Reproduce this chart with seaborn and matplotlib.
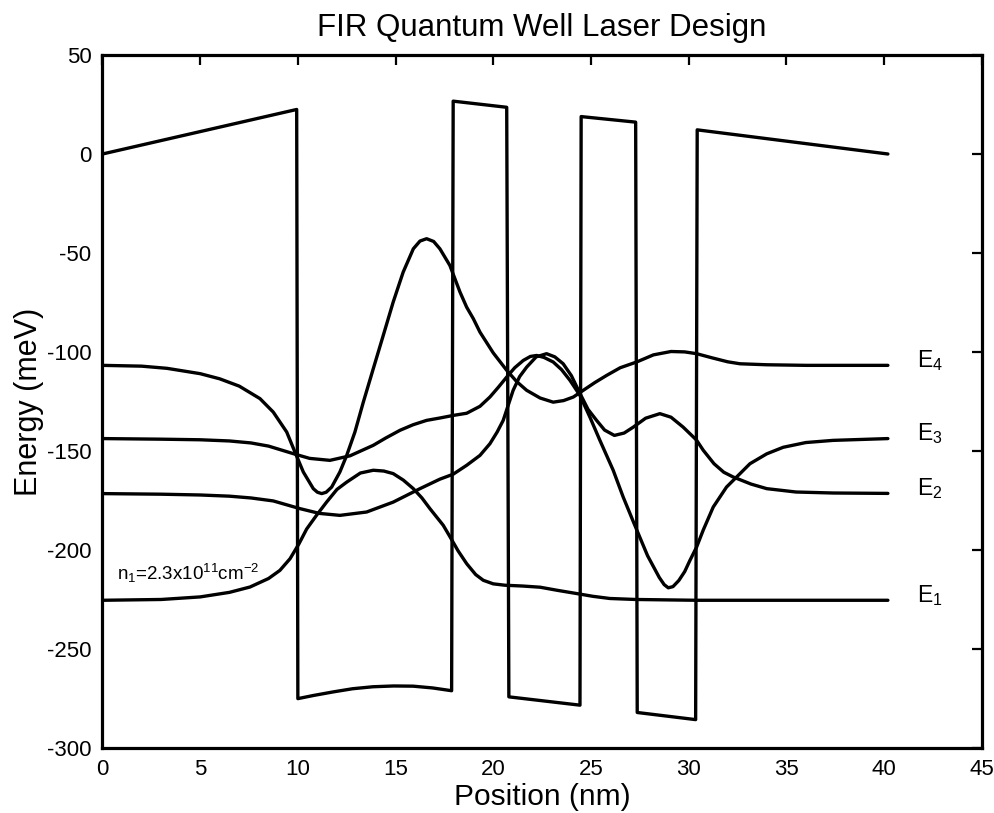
import matplotlib
matplotlib.use("Agg")
import matplotlib.pyplot as plt
import seaborn as sns
import pandas as pd

# ---------------- data ----------------
pot_x = [0, 9.94, 10.0, 10.8, 11.81, 12.8, 13.84, 14.9, 15.9, 16.9, 17.87,
         17.95, 20.69, 20.8, 24.44, 24.5, 27.29, 27.37, 30.36, 30.44, 40.2]
pot_y = [0, 22.5, -275.2, -273.6, -271.8, -270.2, -269.2, -268.8, -268.9, -269.8, -271.2,
         26.7, 23.6, -274.3, -278.5, 18.9, 16.1, -282.2, -285.8, 12.2, 0.0]

e1_x = [0, 3, 5, 6.5, 7.55, 8.5, 9.08, 9.6, 10.06, 10.45, 10.96, 11.47, 12.0, 12.5,
        13.2, 13.86, 14.4, 14.88, 15.4, 15.91, 16.35, 16.76, 17.44, 17.78, 18.2,
        18.64, 19.1, 19.49, 20.0, 20.6, 21.5, 22.4, 23.3, 24.27, 25.1, 25.97,
        27.3, 30.4, 40.2]
e1_y = [-225.5, -225.1, -223.8, -221.5, -218.8, -214.5, -210.4, -204.5, -196.9,
        -189.5, -182.5, -175.9, -169.5, -165.8, -161.2, -159.8, -160.2, -161.5,
        -164.8, -169.1, -173.8, -179.2, -187.6, -193.3, -200.5, -207, -212.5,
        -215.4, -217.2, -217.9, -218.3, -218.9, -220.5, -222.1, -223.5, -224.6,
        -225.1, -225.5, -225.5]

e2_x = [0, 3, 5, 6.5, 7.6, 8.74, 10.11, 11.1, 12.15, 13.52, 14.88, 16.25, 17.27,
        17.95, 18.64, 19.32, 19.83, 20.2, 20.51, 21.02, 21.35, 21.71, 22.2, 22.73,
        23.15, 23.58, 24.0, 24.44, 24.85, 25.29, 25.7, 26.2, 26.7, 27.17, 27.8,
        28.53, 29.1, 29.72, 30.4, 30.75, 31.3, 31.8, 32.28, 33.2, 34.0, 35.5, 37.4,
        40.2]
e2_y = [-171.6, -171.9, -172.3, -172.9, -173.8, -175.3, -179.2, -181.6, -182.6,
        -180.9, -175.9, -169.1, -164.3, -161.8, -157.3, -152.3, -146.4, -140.5,
        -134.6, -119.4, -112.5, -107.7, -102.5, -100.9, -102.5, -106, -112, -121,
        -129, -134.6, -139.5, -142.2, -141, -138, -133.5, -131.2, -133, -138,
        -144.5, -149.7, -156.5, -160.8, -163.2, -166.8, -169.1, -170.8, -171.3,
        -171.5]

e3_x = [0, 3, 5, 6.5, 7.6, 8.5, 9.76, 10.6, 11.64, 12.67, 13.86, 14.5, 15.23, 15.9,
        16.59, 17.27, 17.95, 18.64, 19.32, 19.83, 20.25, 20.69, 21.1, 21.54, 21.9,
        22.22, 22.6, 23.07, 23.5, 23.93, 24.44, 24.95, 25.46, 26.14, 26.65, 27.2,
        27.9, 28.5, 28.75, 28.96, 29.2, 29.5, 29.8, 30.07, 30.41, 30.75, 31.26,
        31.94, 33.14, 34.0, 34.84, 36.0, 37.4, 40.2]
e3_y = [-143.8, -144.1, -144.4, -145.0, -146.0, -147.6, -151.4, -153.8, -154.8,
        -152.5, -147.2, -143.5, -139.6, -136.8, -134.6, -133.4, -132.1, -131,
        -127.5, -122.8, -118, -112.7, -108, -104.3, -102.3, -101.8, -102.8, -105.1,
        -109, -114.4, -122, -133, -144.7, -159.8, -173.3, -186.5, -203, -214,
        -217.6, -219.2, -218.6, -215.5, -211, -205.3, -198.6, -190, -178.4, -168.3,
        -156.5, -151.5, -148.2, -145.8, -144.7, -143.8]

e4_x = [0, 2, 3.3, 5, 6, 7.0, 8.06, 8.74, 9.43, 9.85, 10.28, 10.79, 11.0, 11.22,
        11.45, 11.73, 12.15, 12.5, 12.92, 13.35, 13.86, 14.37, 14.88, 15.39, 15.91,
        16.25, 16.59, 16.95, 17.27, 17.78, 18.3, 18.64, 18.98, 19.32, 20.0, 20.69,
        21.2, 21.71, 22.4, 23.07, 23.6, 24.1, 24.61, 25.2, 25.8, 26.5, 27.34, 28.2,
        29.1, 29.8, 30.41, 31.2, 32.0, 32.63, 34.0, 36.04, 40.2]
e4_y = [-106.8, -107.2, -108.3, -111, -113.6, -117.3, -123.6, -130.4, -140.5,
        -150.6, -160.7, -169.1, -170.9, -171.6, -170.9, -168.3, -160.7, -152.3,
        -140.5, -125.4, -108.5, -91.7, -74.8, -59.7, -47.9, -44, -42.8, -44.2,
        -47.9, -56.3, -69.8, -77.4, -83.2, -90, -100.5, -109.3, -115, -119.4,
        -123.3, -125.4, -124.6, -122.8, -119.4, -115.5, -111.9, -108, -105.1,
        -101.5, -99.8, -100, -100.9, -103, -105, -106, -106.5, -106.8, -106.8]

level_names = ["E$_4$", "E$_3$", "E$_2$", "E$_1$"]
level_values = [-106.8, -143.8, -171.5, -225.5]

density_text = "n$_1$=2.3x10$^{11}$cm$^{-2}$"
density_at = (0.75, -215.5)

x_ticks = [0, 5, 10, 15, 20, 25, 30, 35, 40, 45]
y_ticks = [-300, -250, -200, -150, -100, -50, 0, 50]

# ---------------- style ----------------
sns.set_theme(style="white")
plt.rcParams["font.family"] = ["Liberation Sans", "DejaVu Sans"]
plt.rcParams["mathtext.fontset"] = "custom"
plt.rcParams["mathtext.rm"] = "Liberation Sans"
plt.rcParams["mathtext.it"] = "Liberation Sans"
plt.rcParams["mathtext.default"] = "regular"
plt.rcParams["axes.unicode_minus"] = False
for key in ["text.color", "axes.labelcolor", "xtick.color", "ytick.color",
            "axes.edgecolor"]:
    plt.rcParams[key] = "black"

fig = plt.figure(figsize=(9.95, 8.13), dpi=100)
ax = fig.add_axes([0.1030, 0.0803, 0.8836, 0.8520])

curves = [(pot_x, pot_y), (e1_x, e1_y), (e2_x, e2_y), (e3_x, e3_y), (e4_x, e4_y)]
for cx, cy in curves:
    df = pd.DataFrame({"x": cx, "y": cy})
    sns.lineplot(data=df, x="x", y="y", ax=ax, color="black", linewidth=2.4,
                 estimator=None, sort=False, legend=False)

for name, val in zip(level_names, level_values):
    ax.text(41.67, val - 0.8, name, fontsize=16.5, ha="left", va="baseline")

ax.text(density_at[0], density_at[1], density_text, fontsize=13.5,
        ha="left", va="baseline")

ax.set_xlim(0, 45)
ax.set_ylim(-300, 50)
ax.set_xticks(x_ticks)
ax.set_yticks(y_ticks)
ax.tick_params(direction="in", length=7, width=1.6, top=True, right=True,
               labelsize=16, pad=8, colors="black")
for sp in ax.spines.values():
    sp.set_linewidth(2.3)
    sp.set_color("black")

ax.set_title("FIR Quantum Well Laser Design", fontsize=22.5, pad=14, color="black")
ax.set_xlabel("Position (nm)", fontsize=21.5, labelpad=2)
ax.set_ylabel("Energy (meV)", fontsize=22, labelpad=2)

fig.savefig("out.png", dpi=100)
